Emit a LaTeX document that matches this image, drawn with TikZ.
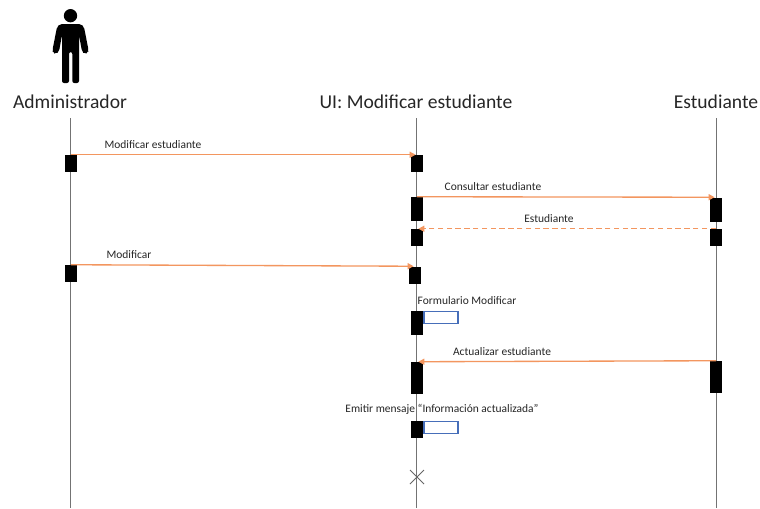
\documentclass[tikz,border=0pt]{standalone}
\usepackage{fontspec}
\setmainfont{Carlito}
\usetikzlibrary{arrows.meta}
\definecolor{msg}{RGB}{243,150,95}
\definecolor{selfblue}{RGB}{70,110,185}
\tikzset{
	bar/.style={fill=black, inner sep=0pt, minimum width=9pt},
	head/.style={inner sep=0pt, text=black!85, font=\fontsize{14.7}{18}\selectfont},
	lbl/.style={inner sep=0pt, text=black!85, font=\fontsize{8.6}{10}\selectfont},
	life/.style={draw=black!55, line width=0.6pt},
	call/.style={draw=msg, line width=1pt, shorten >=1pt, -{Triangle[length=4.5pt,width=4.5pt]}},
	back/.style={call, dash pattern=on 4pt off 2.6pt},
	loopbox/.style={draw=selfblue, line width=1.1pt, inner sep=0pt, minimum width=25.5pt, minimum height=9pt}
}

\begin{document}
\begin{tikzpicture}[x=0.75pt,y=-0.75pt]
	\useasboundingbox[fill=white] (0,0) rectangle (760,508);

	\fill[black] (70.5,15.7) circle (5pt);
	\fill[black,rounded corners=1.5pt] (60,24) -- (81,24) -- (84,27) -- (88.5,50) -- (88,53) -- (84.5,54) -- (82,51.5) -- (79,35) -- (79,83) -- (72.3,83) -- (72.3,52) -- (69,52) -- (69,83) -- (62,83) -- (62,35) -- (59,51.5) -- (56,54) -- (52.8,53) -- (52.5,50) -- (57,27) -- cycle;

	\node[head] (adm) at (70,102) {Administrador};
	\node[head] (ui) at (416,102) {UI: Modificar estudiante};
	\node[head] (est) at (716,102) {Estudiante};

	\coordinate (admtop) at (70.5,118);
	\coordinate (uitop) at (416.5,118);
	\coordinate (esttop) at (716.5,118);
	\coordinate (admend) at (70.5,508);
	\coordinate (uiend) at (416.5,508);
	\coordinate (estend) at (716.5,508);
	\draw[life] (admtop) -- (admend);
	\draw[life] (uitop) -- (uiend);
	\draw[life] (esttop) -- (estend);

	\node[bar, minimum height=12.75pt] (a1) at (71,163.5) {};
	\node[bar, minimum height=12.75pt] (a2) at (71,273.5) {};

	\node[bar, minimum height=12.75pt] (u1) at (417,163.5) {};
	\node[bar, minimum height=18pt] (u2) at (417,209) {};
	\node[bar, minimum height=12.75pt] (u3) at (417,237.5) {};
	\node[bar, minimum height=12.75pt] (u4) at (415,275) {};
	\node[bar, minimum height=18pt] (u5) at (417,323) {};
	\node[bar, minimum height=24pt] (u6) at (417,378) {};
	\node[bar, minimum height=12.75pt] (u7) at (417,429.5) {};

	\node[bar, minimum height=18pt] (e1) at (716,209.5) {};
	\node[bar, minimum height=12.75pt] (e2) at (716,237.5) {};
	\node[bar, minimum height=24pt] (e3) at (716,377) {};

	\draw[call] (a1.north) -- (u1.north);
	\draw[call] (u2.north) -- (e1.north);
	\draw[back] (e2.north) -- (u3.north);
	\draw[call] (a2.north) -- (u4.north);
	\draw[call] (e3.north) -- (u6.north);

	\node[loopbox, anchor=north west] (b1) at (u5.north east) {};
	\node[loopbox, anchor=north west] (b2) at (u7.north east) {};

	\node[lbl] (l1) at (153,145) {Modificar estudiante};
	\node[lbl] (l2) at (493,187) {Consultar estudiante};
	\node[lbl] (l3) at (549,219) {Estudiante};
	\node[lbl] (l4) at (129,255) {Modificar};
	\node[lbl] (l5) at (467,301) {Formulario Modificar};
	\node[lbl] (l6) at (502,352) {Actualizar estudiante};
	\node[lbl] (l7) at (442,409) {Emitir mensaje “Información actualizada”};

	\coordinate (x1) at (410,470);
	\coordinate (x2) at (424,484);
	\coordinate (x3) at (424,470);
	\coordinate (x4) at (410,484);
	\draw[draw=black!60, line width=0.6pt] (x1) -- (x2) (x3) -- (x4);
\end{tikzpicture}
\end{document}
